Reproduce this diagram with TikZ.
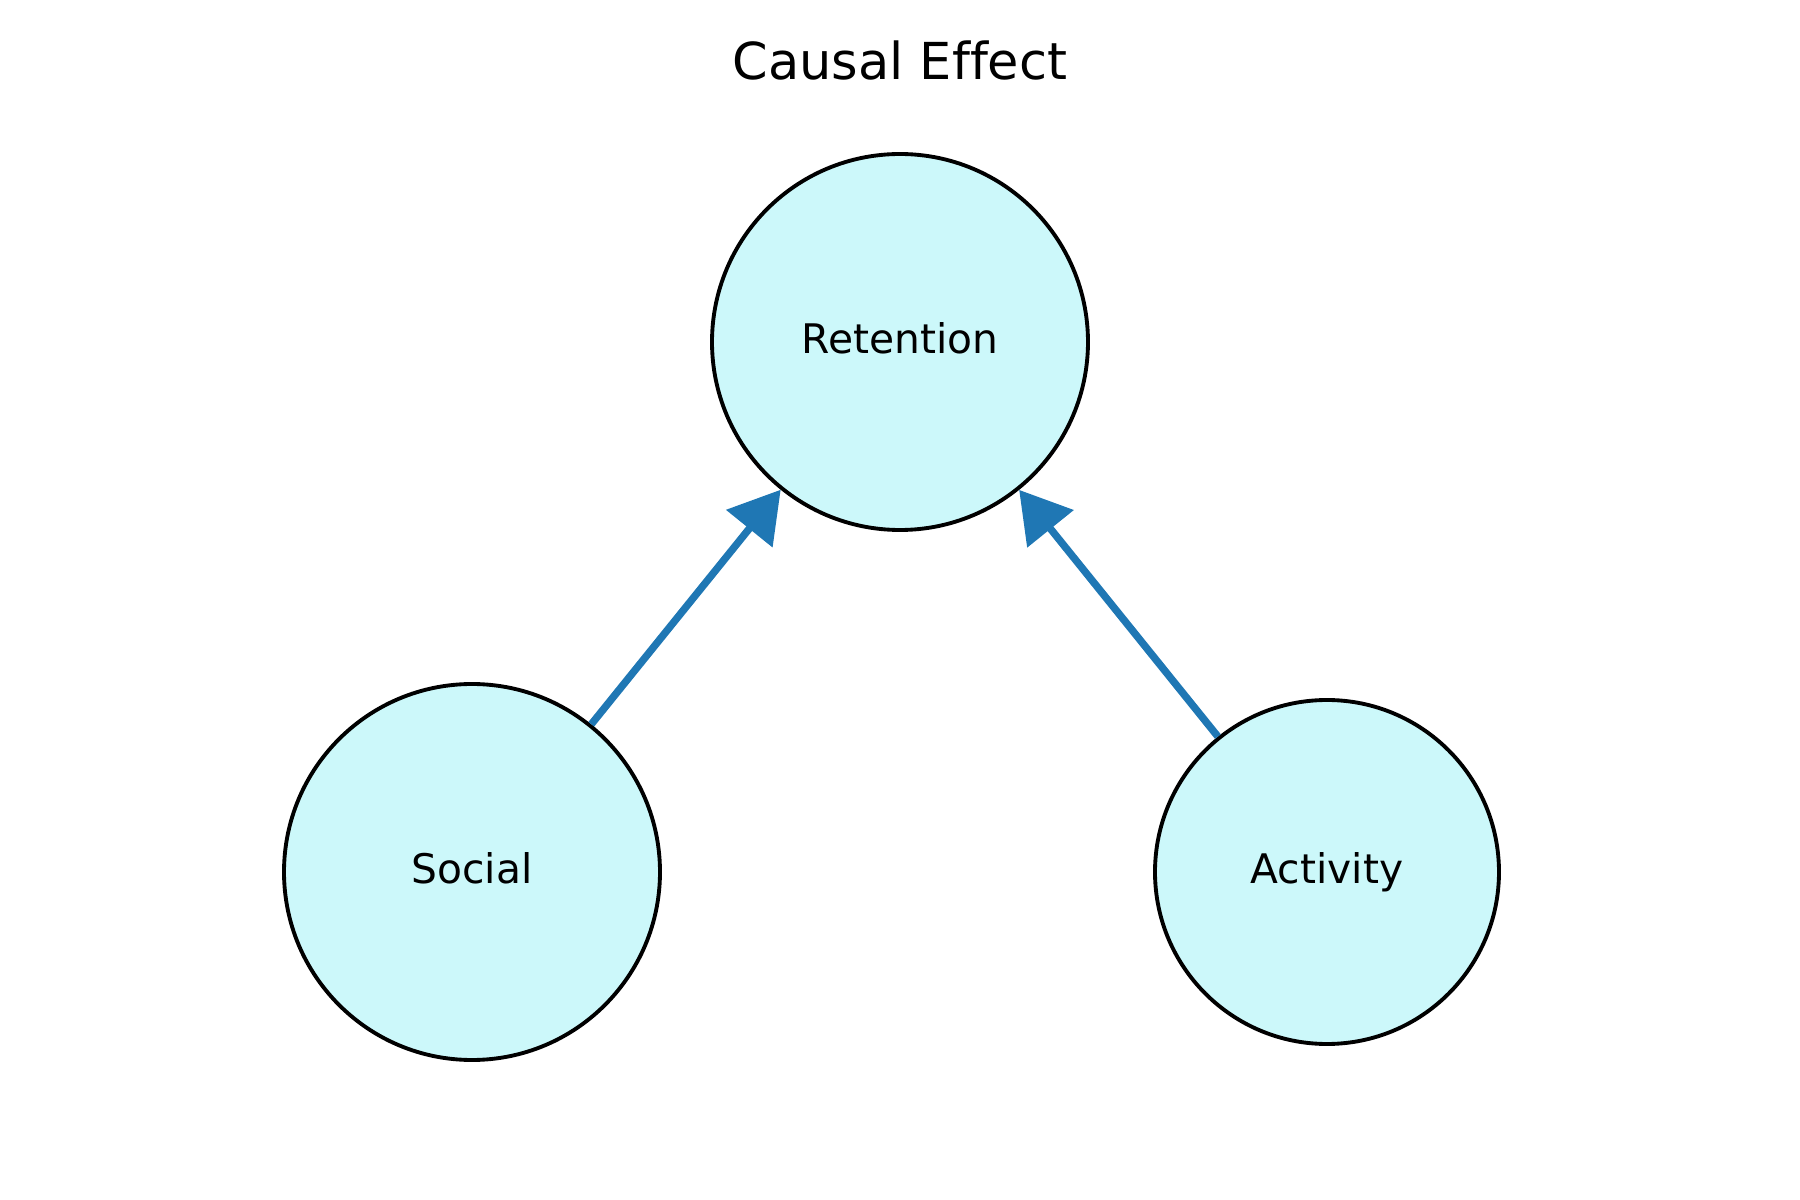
\documentclass[tikz,border=0pt]{standalone}
\usepackage{fontspec}
\setmainfont[Ligatures=NoCommon]{DejaVu Sans}
\usepackage{xcolor}
\usetikzlibrary{arrows.meta,positioning}
\definecolor{nodecyan}{RGB}{204,248,250}
\definecolor{edgeblue}{RGB}{31,119,180}

\begin{document}
\begin{tikzpicture}[
    var/.style={circle, draw, line width=1.1pt, fill=nodecyan, inner sep=0pt, font=\fontsize{11.6}{14}\selectfont, text height=8.5pt, text depth=1.7pt},
    arrow/.style={-{Triangle[length=5mm, width=5.8mm]}, line width=2.1pt, draw=edgeblue},
    title/.style={font=\fontsize{14.5}{17}\selectfont, anchor=base}
]
\useasboundingbox (0,0) rectangle (18,12);

% Title
\node[title] (ttl) at (9,11.2) {Causal Effect};

% Variables
\node[var, minimum size=3.76cm] (retention) at (9.00,8.58) {Retention};
\node[var, minimum size=3.76cm] (social) at (4.72,3.28) {Social};
\node[var, minimum size=3.44cm] (activity) at (13.27,3.28) {Activity};

% Causal edges
\draw[arrow] (social) -- (retention);
\draw[arrow] (activity) -- (retention);

\end{tikzpicture}
\end{document}
